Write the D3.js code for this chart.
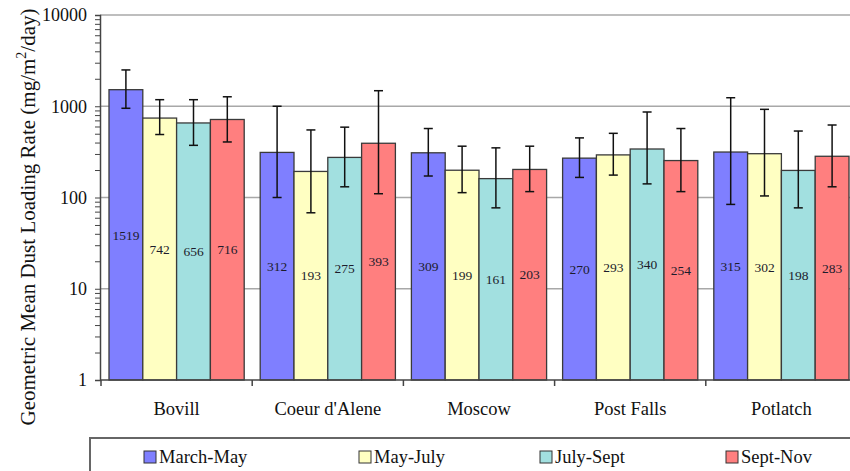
<!DOCTYPE html>
<meta charset="utf-8">
<script src="https://d3js.org/d3.v7.min.js"></script>
<style>
  body { margin: 0; background: #fff; }
  svg text { font-family: 'Liberation Serif', 'DejaVu Serif', serif !important; }
</style>
<div class="canvas"></div>

<script>
    const width = 850
    const height = 471
    const serif = "'Liberation Serif', 'DejaVu Serif', serif"

    // data
    const categories = ["Bovill", "Coeur d'Alene", "Moscow", "Post Falls", "Potlatch"]
    const seasons = ["March-May", "May-July", "July-Sept", "Sept-Nov"]
    const colors = ["#7f7fff", "#ffffc2", "#a2e0e0", "#ff7f7f"]

    const marchMay = [1519, 312, 309, 270, 315]
    const mayJuly = [742, 193, 199, 293, 302]
    const julySept = [656, 275, 161, 340, 198]
    const septNov = [716, 393, 203, 254, 283]

    // error bar ends
    const marchMayHi = [2500, 1000, 570, 450, 1240]
    const marchMayLo = [950, 100, 172, 166, 84]
    const mayJulyHi = [1180, 550, 365, 505, 925]
    const mayJulyLo = [490, 68, 113, 176, 104]
    const julySeptHi = [1180, 590, 350, 865, 535]
    const julySeptLo = [373, 131, 77, 141, 77]
    const septNovHi = [1270, 1480, 365, 570, 623]
    const septNovLo = [406, 110, 116, 116, 131]

    const yTicks = [1, 10, 100, 1000, 10000]

    const values = [marchMay, mayJuly, julySept, septNov]
    const his = [marchMayHi, mayJulyHi, julySeptHi, septNovHi]
    const los = [marchMayLo, mayJulyLo, julySeptLo, septNovLo]

    const rows = []
    categories.forEach((c, i) => {
        seasons.forEach((s, j) => {
            rows.push({cat: c, season: s, k: j, v: values[j][i], hi: his[j][i], lo: los[j][i]})
        })
    })

    const svg = d3.select(".canvas")
                .append("svg")
                .attr("width", width)
                .attr("height", height)
                .attr("font-family", serif)

    const x = d3.scaleBand()
                .domain(categories)
                .range([101, 857])

    const x1 = d3.scaleBand()
                .domain(seasons)
                .range([8, x.bandwidth() - 8])

    const y = d3.scaleLog()
                .domain([1, 10000])
                .range([380, 15])

    // gridlines
    svg.append("g")
        .selectAll("line")
        .data(yTicks.slice(1))
        .join("line")
        .attr("x1", 100).attr("x2", width)
        .attr("y1", d => y(d)).attr("y2", d => y(d))
        .attr("stroke", "#a8a8a8")
        .attr("stroke-width", 1.5)

    // bars
    svg.append("g")
        .selectAll("rect")
        .data(rows)
        .join("rect")
        .attr("x", d => x(d.cat) + x1(d.season))
        .attr("width", x1.bandwidth())
        .attr("y", d => y(d.v))
        .attr("height", d => y(1) - y(d.v))
        .attr("fill", d => colors[d.k])
        .attr("stroke", "#3a3a3a")
        .attr("stroke-width", 1.3)

    // error bars
    const err = svg.append("g")
        .attr("stroke", "#111")
        .attr("stroke-width", 1.5)
        .selectAll("g")
        .data(rows)
        .join("g")
        .attr("transform", d => `translate(${x(d.cat) + x1(d.season) + x1.bandwidth() / 2},0)`)

    err.append("line")
        .attr("y1", d => y(d.hi)).attr("y2", d => y(d.lo))
    err.append("line")
        .attr("x1", -4.5).attr("x2", 4.5)
        .attr("y1", d => y(d.hi)).attr("y2", d => y(d.hi))
    err.append("line")
        .attr("x1", -4.5).attr("x2", 4.5)
        .attr("y1", d => y(d.lo)).attr("y2", d => y(d.lo))

    // value labels, centred on the bar in log space
    svg.append("g")
        .selectAll("text")
        .data(rows)
        .join("text")
        .attr("x", d => x(d.cat) + x1(d.season) + x1.bandwidth() / 2)
        .attr("y", d => y(Math.sqrt(d.v)))
        .attr("dy", "0.35em")
        .attr("text-anchor", "middle")
        .style("font-size", "13.5px")
        .attr("fill", "#1c1c2c")
        .text(d => d.v)

    // y axis
    const minor = []
    for (let p = 1; p < 10000; p *= 10) for (let m = 1; m < 10; m++) minor.push(p * m)
    minor.push(10000)

    const yAxis = d3.axisLeft(y)
                    .tickValues(minor)
                    .tickSize(5)
                    .tickPadding(8)
                    .tickFormat(d => yTicks.includes(d) ? d : "")

    const gYAxis = svg.append("g")
                    .attr("transform", "translate(100,0)")
                    .call(yAxis)
                    .attr("font-family", serif)
    gYAxis.select(".domain").attr("stroke", "#444").attr("stroke-width", 1.5)
    gYAxis.selectAll(".tick line").attr("stroke", "#444")
    gYAxis.selectAll("text")
        .style("font-size", "18px")
        .attr("fill", "#111")

    // x axis
    const xAxis = d3.axisBottom(x)
                    .tickSize(0)
                    .tickPadding(22)
    const gXAxis = svg.append("g")
                    .attr("transform", "translate(0,380)")
                    .call(xAxis)
                    .attr("font-family", serif)
    gXAxis.select(".domain").remove()
    gXAxis.append("line")
        .attr("x1", 100).attr("x2", width)
        .attr("stroke", "#444").attr("stroke-width", 1.5)
    gXAxis.selectAll(".sep")
        .data(categories)
        .join("line")
        .attr("class", "sep")
        .attr("x1", d => x(d)).attr("x2", d => x(d))
        .attr("y1", 0).attr("y2", 6)
        .attr("stroke", "#444").attr("stroke-width", 1.5)
    gXAxis.selectAll(".tick text")
        .style("font-size", "18.5px")
        .attr("fill", "#111")

    // y title
    const title = svg.append("text")
        .attr("transform", "translate(35,217) rotate(-90)")
        .attr("text-anchor", "middle")
        .style("font-size", "21px")
        .attr("fill", "#111")
    title.append("tspan").text("Geometric Mean Dust Loading Rate (mg/m")
    title.append("tspan").attr("dy", -9).style("font-size", "14px").text("2")
    title.append("tspan").attr("dy", 9).text("/day)")

    // legend
    const legend = svg.append("g")
    legend.append("rect")
        .attr("x", 90).attr("y", 438)
        .attr("width", 800).attr("height", 60)
        .attr("fill", "#fff")
        .attr("stroke", "#666")
        .attr("stroke-width", 2)

    const legendX = [144, 359, 540, 726]
    const item = legend.selectAll(".item")
        .data(seasons)
        .join("g")
        .attr("class", "item")
        .attr("transform", (d, i) => `translate(${legendX[i]},451)`)
    item.append("rect")
        .attr("width", 12).attr("height", 12)
        .attr("fill", (d, i) => colors[i])
        .attr("stroke", "#333")
        .attr("stroke-width", 1)
    item.append("text")
        .attr("x", 15).attr("y", 12)
        .style("font-size", "18.5px")
        .attr("fill", "#111")
        .text(d => d)
</script>
